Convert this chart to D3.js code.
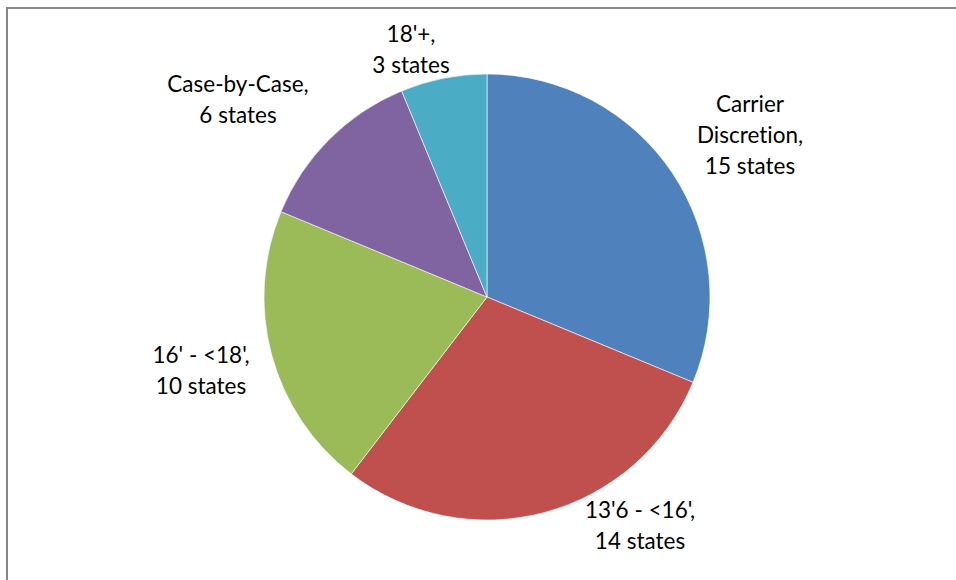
<!DOCTYPE html>
<html>
<head>
<meta charset="utf-8">
<script src="https://cdn.jsdelivr.net/npm/d3@7/dist/d3.min.js"></script>
<style>
  body { margin: 0; background: #fff; }
  text { font-family: Lato, "Liberation Sans", sans-serif; font-variant-ligatures: none; font-feature-settings: "liga" 0; }
</style>
</head>
<body>
<script>
// data
const categories = ["Carrier Discretion", "13'6 - <16'", "16' - <18'", "Case-by-Case", "18'+"];
const states = [15, 14, 10, 6, 3];
const labelLines = [
    ["Carrier", "Discretion,", "15 states"],
    ["13'6 - <16',", "14 states"],
    ["16' - <18',", "10 states"],
    ["Case-by-Case,", "6 states"],
    ["18'+,", "3 states"]
];
const colors = ["#4F81BD", "#C0504D", "#9BBB59", "#8064A2", "#4BACC6"];

// layout: label anchor offset from pie centre (x middle, first baseline)
const labelOffset = [[263, -185], [153, 221], [-286, 66], [-249, -205], [-76, -255]];

let width = 956, height = 580;
let cx = 487, cy = 297, radius = 223;
let lineH = 31;

let svg = d3.select("body")
    .append("svg")
    .attr("width", width)
    .attr("height", height);

// chart border
svg.append('rect')
    .attr('x', 7)
    .attr('y', 8)
    .attr('width', width + 20)
    .attr('height', height + 20)
    .attr('fill', 'white')
    .attr('stroke', '#878787')
    .attr('stroke-width', 2);

let items = categories.map((c, i) => ({ name: c, value: states[i], i: i }));

let pie = d3.pie()
    .value(d => d.value)
    .sort(null);
let arc = d3.arc()
    .innerRadius(0)
    .outerRadius(radius);

let g = svg.append('g').attr('transform', `translate(${cx},${cy})`);

g.selectAll('path')
    .data(pie(items))
    .enter()
    .append('path')
    .attr('d', arc)
    .attr('fill', d => colors[d.data.i])
    .attr('stroke', 'white')
    .attr('stroke-width', 0.6);

// labels
let labels = g.selectAll('text.lbl')
    .data(items)
    .enter()
    .append('text')
    .attr('class', 'lbl')
    .attr('text-anchor', 'middle')
    .attr('font-size', '22.5px')
    .attr('fill', '#000')
    .attr('x', d => labelOffset[d.i][0])
    .attr('y', d => labelOffset[d.i][1]);

labels.each(function(d) {
    let t = d3.select(this);
    labelLines[d.i].forEach((line, k) => {
        t.append('tspan')
            .attr('x', labelOffset[d.i][0])
            .attr('dy', k == 0 ? 0 : lineH)
            .text(line);
    });
});
</script>
</body>
</html>
